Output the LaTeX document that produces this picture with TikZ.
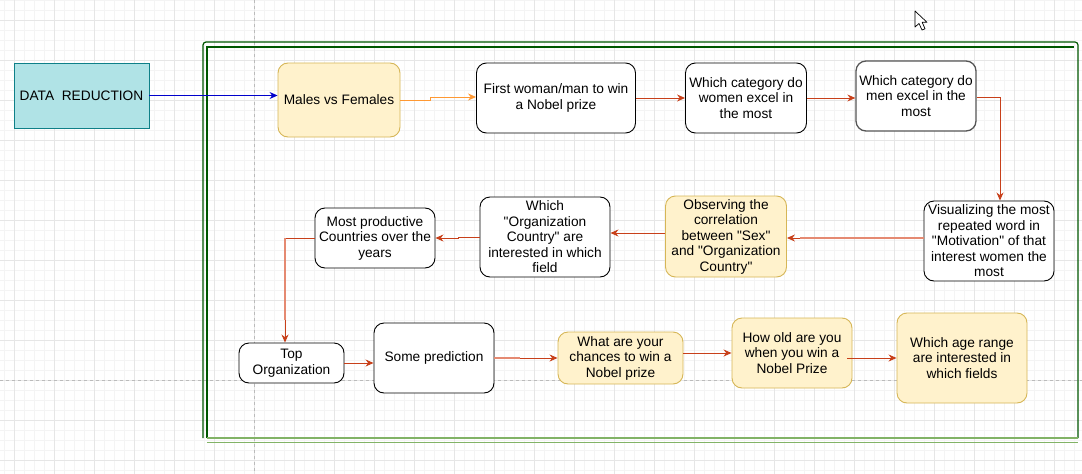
\documentclass[tikz,border=0pt]{standalone}
\usepackage{fontspec}
\setmainfont{Liberation Sans}[Ligatures=TeXOff]
\usetikzlibrary{arrows.meta}
\definecolor{gminor}{HTML}{F4F4F4}
\definecolor{gmajor}{HTML}{E6E6E6}
\definecolor{pagebrk}{HTML}{BBBBBB}
\definecolor{tealfill}{HTML}{B0E3E6}
\definecolor{tealdraw}{HTML}{0E8088}
\definecolor{yfill}{HTML}{FFF2CC}
\definecolor{ydraw}{HTML}{D6B656}
\definecolor{dkgreen}{HTML}{005700}
\definecolor{ltgreen}{HTML}{82B366}
\definecolor{bluearr}{HTML}{0000CC}
\definecolor{orgarr}{HTML}{FF9933}
\definecolor{redarr}{HTML}{C8401A}
\definecolor{salmon}{HTML}{E58A72}
\definecolor{graybd}{HTML}{555555}
\tikzset{
  x=1pt,y=-1pt,
  every node/.style={font=\fontsize{13.7}{15.5}\selectfont, align=center, inner sep=0pt},
  wbox/.style={draw=black, fill=white, rounded corners=10, line width=0.9pt},
  ybox/.style={draw=ydraw, fill=yfill, rounded corners=10, line width=0.9pt},
  conn/.style={line width=1pt, -{Stealth[length=8pt,width=7pt]}},
  minorl/.style={gminor, line width=0.6pt},
  majorl/.style={gmajor, line width=0.8pt},
}
\begin{document}
\begin{tikzpicture}
\useasboundingbox (0,0) rectangle (1082,474);
\fill[white] (0,0) rectangle (1082,474);
% grid
\foreach \x in {4,14,...,1082} \draw[minorl] (\x,0) -- (\x,474);
\foreach \y in {0,10,...,474} \draw[minorl] (0,\y) -- (1082,\y);
\foreach \x in {14,54,...,1082} \draw[majorl] (\x,0) -- (\x,474);
\foreach \y in {20,60,...,474} \draw[majorl] (0,\y) -- (1082,\y);
% page breaks
\draw[pagebrk, dashed, line width=0.8pt] (254,0) -- (254,474);
\draw[pagebrk, dashed, line width=0.8pt] (0,380) -- (1082,380);
% frame
\draw[dkgreen, line width=1.2pt, rounded corners=3] (203,438) -- (203,42) -- (1078,42) -- (1078,438);
\draw[dkgreen, line width=1.2pt] (207,438) -- (207,47) -- (1074,47);
\draw[ltgreen, line width=1.6pt] (207,438) -- (1078,438);
\draw[ltgreen, line width=1.6pt] (207,442.5) -- (1078,442.5);
% cursor
\draw[black, fill=white, line width=0.7pt, line join=round] (915,11) -- (915,27) -- (919,23.5) -- (922,30) -- (925,28.8) -- (922.2,22.3) -- (927,22.3) -- cycle;
% nodes
\node[draw=tealdraw, fill=tealfill, line width=0.9pt, minimum width=135, minimum height=65] (dr) at (81.5,95.5) {DATA\ \ REDUCTION};
\node[ybox, minimum width=122, minimum height=74] (mf) at (339,100) {Males vs Females};
\node[wbox, minimum width=159, minimum height=70] (fw) at (556,98) {First woman/man to win\\a Nobel prize};
\node[wbox, minimum width=121, minimum height=70] (cw) at (746,98) {Which category do\\women excel in\\the most};
\node[draw=graybd, fill=white, rounded corners=10, line width=1.3pt, minimum width=120, minimum height=70] (cm) at (916,96) {Which category do\\men excel in the\\most};
\node[wbox, minimum width=130, minimum height=80] (vis) at (989,241) {Visualizing the most\\repeated word in\\"Motivation" of that\\interest women the\\most};
\node[ybox, minimum width=121, minimum height=81] (obs) at (726,236.5) {Observing the\\correlation\\between "Sex"\\and "Organization\\Country"};
\node[wbox, minimum width=130, minimum height=80] (org) at (545,237) {Which\\"Organization\\Country" are\\interested in which\\field};
\node[wbox, minimum width=120, minimum height=60] (mp) at (375,238) {Most productive\\Countries over the\\years};
\node[wbox, minimum width=105, minimum height=40] (top) at (291.5,363) {Top\\Organization};
\node[wbox, minimum width=120, minimum height=70] (sp) at (434,358) {Some prediction};
\node[ybox, minimum width=125, minimum height=52] (ch) at (620.5,358) {What are your\\chances to win a\\Nobel prize};
\node[ybox, minimum width=120, minimum height=70] (old) at (792,353) {How old are you\\when you win a\\Nobel Prize};
\node[ybox, minimum width=130, minimum height=90] (age) at (962,358) {Which age range\\are interested in\\which fields};
% connectors
\draw[conn, bluearr] (dr.east) -- (mf.west |- dr.east);
\draw[conn, orgarr] (mf.east) -- (430,100) -- (430,97) -- (fw.west |- 0,97);
\draw[conn, redarr] (fw.east |- 0,98) -- (cw.west |- 0,98);
\draw[conn, redarr] (cw.east |- 0,98) -- (cm.west |- 0,98);
\draw[conn, redarr] (cm.east |- 0,97) -- (1000,97) -- (vis.north -| 1000,0);
\draw[salmon, line width=1.2pt] (vis.west |- 0,238) -- (800,238);
\draw[conn, redarr] (800,238) -- (obs.east |- 0,238);
\draw[conn, redarr] (obs.west |- 0,233) -- (org.east |- 0,233);
\draw[conn, redarr] (org.west |- 0,237) -- (458,237) -- (458,238) -- (mp.east |- 0,238);
\draw[redarr, line width=1pt] (mp.west |- 0,238) -- (285,238);
\draw[salmon, line width=1.2pt] (285,238) -- (285,320);
\draw[conn, redarr] (285,320) -- (top.north -| 285,0);
\draw[conn, redarr] (top.east) -- (sp.west |- top.east);
\draw[salmon, line width=1.2pt] (sp.east |- 0,358) -- (520,358);
\draw[conn, redarr] (520,358) -- (ch.west |- 0,358);
\draw[conn, redarr] (ch.east |- 0,353) -- (old.west |- 0,353);
\draw[conn, redarr] (847,358) -- (age.west |- 0,358);
\end{tikzpicture}
\end{document}
